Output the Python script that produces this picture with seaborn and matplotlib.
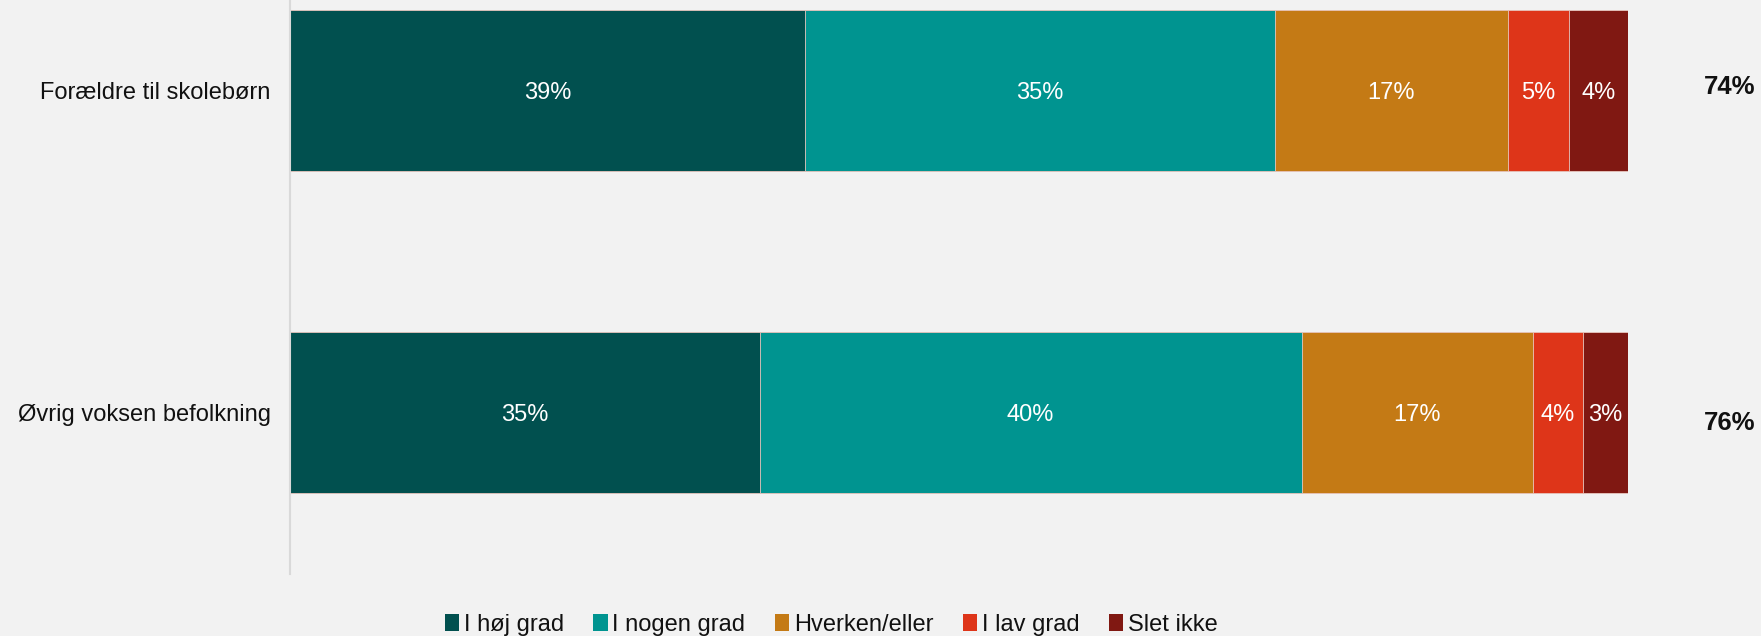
import numpy as np
import pandas as pd
import matplotlib
matplotlib.use("Agg")
import matplotlib.pyplot as plt
import seaborn as sns
from matplotlib.patches import Patch

sns.set_style("white")
plt.rcParams['font.family'] = ['Liberation Sans', 'DejaVu Sans']

# data
groups = ["Forældre til skolebørn", "Øvrig voksen befolkning"]
answers = ["I høj grad", "I nogen grad", "Hverken/eller", "I lav grad", "Slet ikke"]
values = {
    "I høj grad":    [38.5, 35.1],
    "I nogen grad":  [35.1, 40.5],
    "Hverken/eller": [17.4, 17.3],
    "I lav grad":    [4.6, 3.7],
    "Slet ikke":     [4.4, 3.4],
}
bar_labels = {
    "I høj grad":    ["39%", "35%"],
    "I nogen grad":  ["35%", "40%"],
    "Hverken/eller": ["17%", "17%"],
    "I lav grad":    ["5%", "4%"],
    "Slet ikke":     ["4%", "3%"],
}
total_labels = ["74%", "76%"]
colors = ["#01504F", "#009490", "#C47A15", "#DE3519", "#801812"]

bg = "#F2F2F2"

df = pd.DataFrame(values, index=groups)
cum = df.cumsum(axis=1)

fig = plt.figure(figsize=(17.61, 6.36), dpi=100, facecolor=bg)
ax = fig.add_axes([290 / 1761, 1 - 574 / 636, 1338 / 1761, 574 / 636])
ax.set_facecolor(bg)

# stacked bars: draw cumulative totals, longest first
for ans, col in reversed(list(zip(answers, colors))):
    d = pd.DataFrame({"gruppe": groups, "v": cum[ans].values})
    sns.barplot(data=d, x="v", y="gruppe", orient="h", color=col,
                width=0.5, saturation=1, edgecolor="#E8C8C0", linewidth=0.6, ax=ax)

# labels inside bars
for ans in answers:
    for i, g in enumerate(groups):
        mid = cum.loc[g, ans] - df.loc[g, ans] / 2
        ax.text(mid, i + 0.008, bar_labels[ans][i], ha="center", va="center",
                color="white", fontsize=17)

# sum of the two top answers, right of the bars
for i, t in enumerate(total_labels):
    ax.text(107.6, i + (-0.01 if i == 0 else 0.034), t, ha="center", va="center",
            fontsize=18.5, fontweight="bold", color="#111111", clip_on=False)

ax.set_xlim(0, 100)
ax.set_ylim(1.5016, -0.281)
ax.set_xlabel("")
ax.set_ylabel("")
ax.set_xticks([])
ax.tick_params(axis="y", length=0, pad=14, labelsize=17, labelcolor="#111111")
for s in ["top", "right", "bottom"]:
    ax.spines[s].set_visible(False)
ax.spines["left"].set_color("#D9D9D9")
ax.spines["left"].set_linewidth(1.5)

handles = [Patch(facecolor=c, edgecolor="none", label=a) for a, c in zip(answers, colors)]
fig.legend(handles=handles, loc="center", bbox_to_anchor=(0.472, 0.018), ncol=5,
           frameon=False, fontsize=17, handlelength=0.6, handleheight=0.7,
           handletextpad=0.2, columnspacing=1.25, labelcolor="#111111")

fig.savefig("out.png", dpi=100, facecolor=bg)
